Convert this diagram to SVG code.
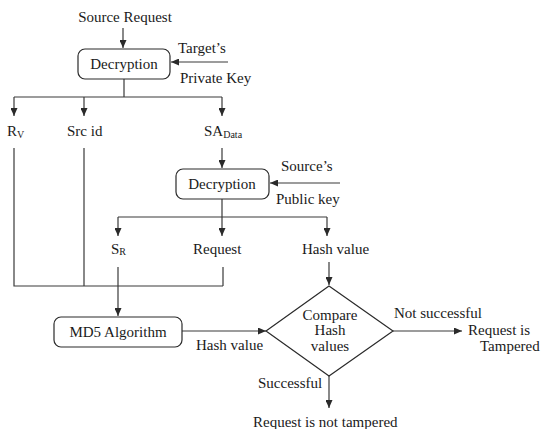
<svg xmlns="http://www.w3.org/2000/svg" width="542" height="429" viewBox="0 0 542 429">
  <defs>
    <marker id="arrow" markerUnits="userSpaceOnUse" markerWidth="8" markerHeight="7" refX="8" refY="3.5" orient="auto">
      <path d="M0,0 L8,3.5 L0,7 z" fill="#2a2a2a"/>
    </marker>
    <style>
      text { font-family: "Liberation Serif", "Times New Roman", serif; font-size: 15px; fill: #1a1a1a; }
      .mid { text-anchor: middle; }
      .sub { font-size: 10px; }
      .box { fill: #ffffff; stroke: #2a2a2a; stroke-width: 1.2; }
      .wire { fill: none; stroke: #3a3a3a; stroke-width: 1.2; }
      .arr { marker-end: url(#arrow); }
    </style>
  </defs>
  <rect width="542" height="429" fill="#ffffff"/>

  <!-- connectors -->
  <g id="connectors">
    <path class="wire arr" d="M123 28 V48"/>
    <path class="wire arr" d="M228 62 H171"/>
    <path class="wire" d="M124 79 V97 M14 97 H222"/>
    <path class="wire arr" d="M14 97 V116"/>
    <path class="wire arr" d="M84 97 V116"/>
    <path class="wire arr" d="M222 97 V116"/>
    <path class="wire" d="M14 148 V286 H223 M84 148 V286 M223 267 V286"/>
    <path class="wire arr" d="M222 148 V168"/>
    <path class="wire arr" d="M340 183 H270"/>
    <path class="wire" d="M222 199 V217 M118 217 H327"/>
    <path class="wire arr" d="M118 217 V236"/>
    <path class="wire arr" d="M222 217 V236"/>
    <path class="wire arr" d="M327 217 V236"/>
    <path class="wire arr" d="M118 267 V316"/>
    <path class="wire arr" d="M329 262 V285"/>
    <path class="wire arr" d="M182 331 H266"/>
    <path class="wire arr" d="M393 331 H462"/>
    <path class="wire arr" d="M329 376 V408"/>
  </g>

  <!-- input -->
  <g id="source-request">
    <text class="mid" x="125" y="22">Source Request</text>
  </g>

  <!-- first decryption -->
  <g id="decryption-1">
    <rect class="box" x="78" y="49" width="92" height="30" rx="7"/>
    <text class="mid" x="124" y="69">Decryption</text>
  </g>
  <g id="targets-key">
    <text x="178" y="53">Target’s</text>
    <text x="180" y="83">Private Key</text>
  </g>

  <!-- decrypted fields -->
  <g id="rv">
    <text x="7" y="136">R<tspan class="sub" dy="2">V</tspan></text>
  </g>
  <g id="src-id">
    <text x="67" y="136">Src id</text>
  </g>
  <g id="sa-data">
    <text x="204" y="136">SA<tspan class="sub" dy="2">Data</tspan></text>
  </g>

  <!-- second decryption -->
  <g id="decryption-2">
    <rect class="box" x="176" y="169" width="93" height="30" rx="7"/>
    <text class="mid" x="222" y="189">Decryption</text>
  </g>
  <g id="sources-key">
    <text x="281" y="171">Source’s</text>
    <text x="276" y="204">Public key</text>
  </g>

  <g id="sr">
    <text x="111" y="254">S<tspan class="sub" dy="1">R</tspan></text>
  </g>
  <g id="request">
    <text x="193" y="254">Request</text>
  </g>
  <g id="hash-value-in">
    <text x="302" y="254">Hash value</text>
  </g>

  <!-- hashing -->
  <g id="md5">
    <rect class="box" x="54" y="317" width="128" height="30" rx="7"/>
    <text class="mid" x="118" y="337">MD5 Algorithm</text>
  </g>
  <g id="hash-value-out">
    <text x="196" y="350">Hash value</text>
  </g>

  <!-- comparison -->
  <g id="compare">
    <polygon class="box" points="329,286 393,331 329,376 266,331"/>
    <text class="mid" x="330" y="320">Compare</text>
    <text class="mid" x="330" y="335">Hash</text>
    <text class="mid" x="330" y="351">values</text>
  </g>

  <g id="tampered">
    <text x="394" y="318">Not successful</text>
    <text x="468" y="335">Request is</text>
    <text x="480" y="351">Tampered</text>
  </g>
  <g id="not-tampered">
    <text x="258" y="388">Successful</text>
    <text x="253" y="427">Request is not tampered</text>
  </g>
</svg>
